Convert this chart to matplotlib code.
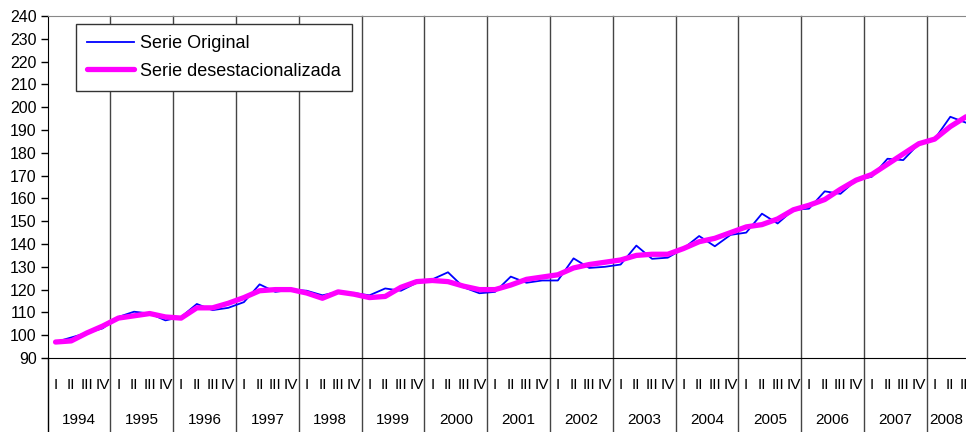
import matplotlib
matplotlib.use('Agg')
import matplotlib.pyplot as plt
import matplotlib.transforms as mtransforms

plt.rcParams['font.family'] = ['Liberation Sans', 'DejaVu Sans']
plt.rcParams['font.size'] = 10

years = list(range(1994, 2009))
quarters = ['I', 'II', 'III', 'IV']

original = [97, 99, 101, 103,
            108, 110.3, 109.5, 106.5,
            108, 113.7, 111, 112,
            114.5, 122.3, 119, 120,
            119.5, 117.5, 119, 118.5,
            117.5, 120.5, 119.5, 123,
            124.5, 127.6, 121, 118.4,
            119, 125.7, 123, 124,
            124, 133.7, 129.5, 130,
            131, 139.3, 133.5, 134,
            138, 143.5, 139, 144,
            145, 153.3, 149, 155,
            155.5, 163.1, 162, 168,
            169.5, 177.4, 176.8, 184,
            186, 195.8, 193.2]

desest = [97, 97.5, 101, 104,
          107.5, 108.5, 109.5, 108,
          107.5, 112, 112, 114,
          116.5, 119.5, 120, 120,
          118.5, 116.2, 119, 118,
          116.5, 117, 121, 123.5,
          124, 123.5, 121.5, 120,
          120, 122, 124.5, 125.5,
          126.5, 129.5, 131, 132,
          133, 135, 135.5, 135.5,
          138, 141, 142.5, 145,
          147.5, 148.5, 151, 155,
          157, 159.5, 164, 168,
          170.5, 175, 179.5, 184,
          186, 191.5, 195.8]

x = [i + 0.5 for i in range(len(original))]
xmax = len(original) - 0.5

fig = plt.figure(figsize=(9.66, 4.32), dpi=100)
ax = fig.add_axes([47.7 / 966, 74 / 432, (966 - 47.7) / 966, 342 / 432])

ax.plot(x, original, color='#0000ff', lw=1.3, label='Serie Original', zorder=3)
ax.plot(x, desest, color='#ff00ff', lw=3.8, label='Serie desestacionalizada',
        zorder=4, solid_capstyle='round', solid_joinstyle='round')

ax.set_xlim(0, xmax)
ax.set_ylim(90, 240)
ax.set_yticks(range(90, 241, 10))
ax.tick_params(axis='y', direction='out', length=5, width=1, labelsize=11.5, pad=3)
ax.set_xticks([])

ax.spines['right'].set_visible(False)
ax.spines['top'].set_color('#888888')
ax.spines['left'].set_color('black')
ax.spines['bottom'].set_color('black')

# year separators, running down through the label area
for k in range(1, len(years)):
    ax.axvline(4 * k, ymin=-0.216, ymax=1, color='#444444', lw=1, clip_on=False, zorder=1)
ax.axvline(0, ymin=-0.216, ymax=0, color='black', lw=1, clip_on=False)

trans = mtransforms.blended_transform_factory(ax.transData, ax.transAxes)
for k, yr in enumerate(years):
    for q, qn in enumerate(quarters):
        ax.text(4 * k + q + 0.5, -0.079, qn, transform=trans, ha='center', va='center',
                fontsize=11, clip_on=False)
    end = min(4 * k + 4, xmax)
    ax.text((4 * k + end) / 2, -0.181, str(yr), transform=trans, ha='center', va='center',
            fontsize=11)

leg = ax.legend(loc='upper left', bbox_to_anchor=(76 / 966, 1 - 24 / 432),
                bbox_transform=fig.transFigure, borderaxespad=0, fancybox=False,
                edgecolor='#333333', framealpha=1, fontsize=13, handlelength=2.6,
                handletextpad=0.35, labelspacing=0.6, borderpad=0.6)
leg.get_frame().set_linewidth(1)

fig.savefig('out.png', dpi=100)
